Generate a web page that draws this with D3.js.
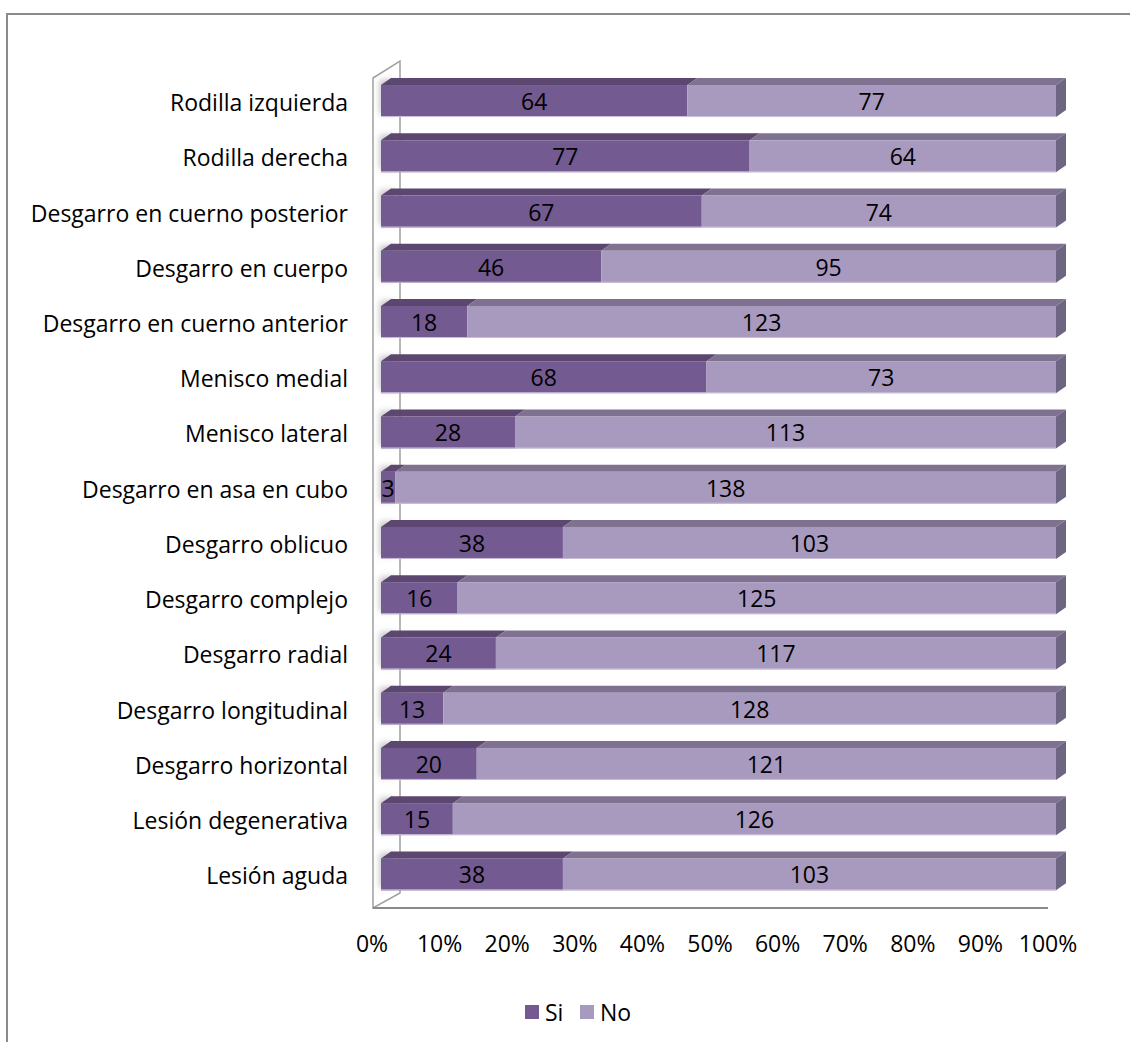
<!DOCTYPE html>
<html>
<head>
<meta charset="utf-8">
<script src="https://cdn.jsdelivr.net/npm/d3@7"></script>
<style>
  html, body { margin: 0; padding: 0; background: #fff; }
  svg text { font-family: "Open Sans", sans-serif; fill: #000; }
</style>
</head>
<body>
<svg id="chart" width="1130" height="1042"></svg>
<script>
const categories = [
  "Rodilla izquierda", "Rodilla derecha", "Desgarro en cuerno posterior",
  "Desgarro en cuerpo", "Desgarro en cuerno anterior", "Menisco medial",
  "Menisco lateral", "Desgarro en asa en cubo", "Desgarro oblicuo",
  "Desgarro complejo", "Desgarro radial", "Desgarro longitudinal",
  "Desgarro horizontal", "Lesión degenerativa", "Lesión aguda"
];
const siValues = [64, 77, 67, 46, 18, 68, 28, 3, 38, 16, 24, 13, 20, 15, 38];
const noValues = [77, 64, 74, 95, 123, 73, 113, 138, 103, 125, 117, 128, 121, 126, 103];
const seriesNames = ["Si", "No"];
const tickValues = [0, 0.1, 0.2, 0.3, 0.4, 0.5, 0.6, 0.7, 0.8, 0.9, 1.0];

const colors = {
  Si: { front: "#735a91", top: "#5b476f", side: "#4f3f63" },
  No: { front: "#a899be", top: "#7e7290", side: "#6d6582" }
};

const FS = 23;
const svg = d3.select("#chart");

// outer border
svg.append("rect").attr("x", 7).attr("y", 14).attr("width", 1200).attr("height", 1200)
  .attr("fill", "none").attr("stroke", "#8a8a8a").attr("stroke-width", 2);

const dx = 10, dy = -7;           // bar depth offset
const wallDx = 27, wallDy = -17;  // wall depth

// scales
const xBar = d3.scaleLinear().domain([0, 1]).range([381, 1056]);
const xAxis = d3.scaleLinear().domain([0, 1]).range([372, 1048]);
const y = d3.scaleBand().domain(categories).range([73.4, 902]).paddingInner(0.421).paddingOuter(0.2105);

const data = categories.map((c, i) => {
  const tot = siValues[i] + noValues[i];
  return { cat: c, Si: siValues[i], No: noValues[i], tot };
});
const stack = d3.stack().keys(seriesNames).value((d, k) => d[k] / d.tot);
const stacked = stack(data);

// defs
const defs = svg.append("defs");
const blur = defs.append("filter").attr("id", "blur").attr("x", "-50%").attr("y", "-50%").attr("width", "200%").attr("height", "200%");
blur.append("feGaussianBlur").attr("stdDeviation", 3);
defs.append("clipPath").attr("id", "wallClip").append("polygon")
  .attr("points", `374,78 399,59 399,893 374,908`);

// wall
const wallTop = 78, wallBottom = 908, wallX = 373;
const wallPts = `${wallX},${wallTop} ${wallX + wallDx},${wallTop + wallDy} ${wallX + wallDx},${wallBottom + wallDy + 2} ${wallX},${wallBottom}`;
const wall = svg.append("g");
wall.append("polygon").attr("points", wallPts).attr("fill", "#fff");
wall.append("g").attr("clip-path", "url(#wallClip)")
  .selectAll("rect").data(categories).join("rect")
  .attr("x", 380).attr("y", d => y(d) - 5)
  .attr("width", 14).attr("height", y.bandwidth() + 2)
  .attr("fill", "#bdbdbd").attr("filter", "url(#blur)");
wall.append("polygon").attr("points", wallPts)
  .attr("fill", "none").attr("stroke", "#a0a0a0").attr("stroke-width", 1.5);
svg.append("line").attr("x1", wallX).attr("x2", xAxis(1)).attr("y1", wallBottom).attr("y2", wallBottom)
  .attr("stroke", "#8a8a8a").attr("stroke-width", 2);

// bars
const barsG = svg.append("g");
stacked.forEach(layer => {
  const key = layer.key;
  const g = barsG.append("g");
  layer.forEach((seg, i) => {
    const cat = categories[i];
    const x0 = xBar(seg[0]), x1 = xBar(seg[1]);
    const y0 = y(cat), h = y.bandwidth();
    g.append("polygon")
      .attr("points", `${x0},${y0} ${x0 + dx},${y0 + dy} ${x1 + dx},${y0 + dy} ${x1},${y0}`)
      .attr("fill", colors[key].top);
    g.append("rect").attr("x", x0).attr("y", y0).attr("width", x1 - x0).attr("height", h)
      .attr("fill", colors[key].front);
    if (seg[1] >= 0.9999) {
      g.append("polygon")
        .attr("points", `${x1},${y0} ${x1 + dx},${y0 + dy} ${x1 + dx},${y0 + h + dy} ${x1},${y0 + h}`)
        .attr("fill", colors[key].side);
    }
  });
});
barsG.append("g").selectAll("line").data(categories).join("line")
  .attr("x1", xBar(0)).attr("x2", xBar(1))
  .attr("y1", d => y(d) + y.bandwidth() - 0.5).attr("y2", d => y(d) + y.bandwidth() - 0.5)
  .attr("stroke", "#c9bfd8").attr("stroke-width", 1);

// data labels
const labelsG = svg.append("g");
stacked.forEach(layer => {
  layer.forEach((seg, i) => {
    const cat = categories[i];
    labelsG.append("text")
      .attr("x", (xBar(seg[0]) + xBar(seg[1])) / 2)
      .attr("y", y(cat) + y.bandwidth() / 2)
      .attr("text-anchor", "middle").attr("dominant-baseline", "central")
      .attr("font-size", FS)
      .text(data[i][layer.key]);
  });
});

// category labels
svg.append("g").selectAll("text").data(categories).join("text")
  .attr("x", 348).attr("y", d => y(d) + y.bandwidth() / 2 + 1)
  .attr("text-anchor", "end").attr("dominant-baseline", "central")
  .attr("font-size", FS)
  .text(d => d);

// x axis labels
svg.append("g").selectAll("text").data(tickValues).join("text")
  .attr("x", d => xAxis(d)).attr("y", 943)
  .attr("text-anchor", "middle").attr("dominant-baseline", "central")
  .attr("font-size", FS)
  .text(d => d3.format(".0%")(d));

// legend
const legend = svg.append("g");
const legendItems = [{ k: "Si", x: 525 }, { k: "No", x: 580 }];
legendItems.forEach(it => {
  legend.append("rect").attr("x", it.x).attr("y", 1005).attr("width", 14).attr("height", 14)
    .attr("fill", colors[it.k].front);
  legend.append("text").attr("x", it.x + 20).attr("y", 1012)
    .attr("dominant-baseline", "central").attr("font-size", FS).text(it.k);
});
</script>
</body>
</html>
